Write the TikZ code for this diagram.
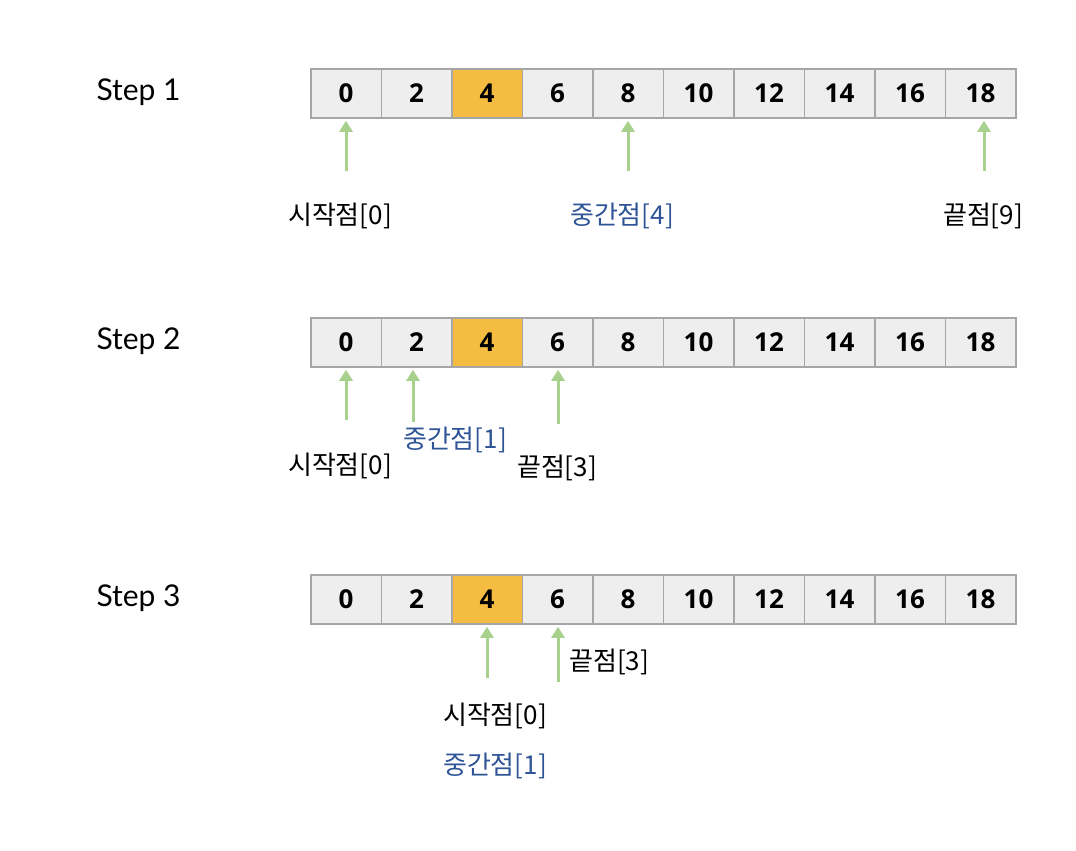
\documentclass[tikz,border=0pt]{standalone}
\usepackage{fontspec}
\usepackage{tikz}
\usetikzlibrary{arrows.meta}
\newfontfamily\kofont{Noto Sans CJK KR}
\newfontfamily\numfont{Open Sans}
\newfontfamily\stepfont{Lato}

\definecolor{cellgray}{HTML}{EEEEEE}
\definecolor{linegray}{HTML}{A6A6A6}
\definecolor{pickgold}{HTML}{F5BC42}
\definecolor{arrowgreen}{HTML}{A9D18E}
\definecolor{midblue}{HTML}{2F5597}

\tikzset{
	cell/.style={draw=linegray, line width=1.5pt, fill=cellgray, minimum width=70.5pt,
		minimum height=49pt, inner sep=0pt, font=\numfont\bfseries\fontsize{26}{26}\selectfont},
	pick/.style={cell, fill=pickgold},
	pointer/.style={draw=arrowgreen, line width=3pt, shorten >=2pt,
		-{Triangle[width=13pt,length=11pt]}},
	steplabel/.style={anchor=west, font=\stepfont\fontsize{30}{30}\selectfont},
	idx/.style={font=\kofont\fontsize{26}{26}\selectfont, inner sep=0pt},
	mididx/.style={idx, text=midblue}
}

\begin{document}
\begin{tikzpicture}[x=1pt, y=-1pt]
			\useasboundingbox (0,0) rectangle (1076,851);
			
			% step labels
			\node[steplabel] (step1) at (93, 92) {Step 1};
			\node[steplabel] (step2) at (93, 341) {Step 2};
			\node[steplabel] (step3) at (93, 598) {Step 3};
			
			% arrays
			\foreach \r/\y in {1/93.5, 2/342.5, 3/599.5} {
				\foreach \i/\v in {0/0, 1/2, 3/6, 4/8, 5/10, 6/12, 7/14, 8/16, 9/18}
					\node[cell] (r\r c\i) at ({346+70.5*\i}, \y) {\v};
				\node[pick] (r\r c2) at (487, \y) {4};
			}
			
			% step 1
			\coordinate (p1s) at (346, 171);
			\coordinate (p1m) at (628, 171);
			\coordinate (p1e) at (984, 171);
			\draw[pointer] (p1s) -- (r1c0.south);
			\draw[pointer] (p1m) -- (r1c4.south -| p1m);
			\draw[pointer] (p1e) -- (r1c9.south -| p1e);
			\node[idx] (l1s) at (340, 216) {시작점[0]};
			\node[mididx] (l1m) at (622, 216) {중간점[4]};
			\node[idx] (l1e) at (983, 216) {끝점[9]};
			
			% step 2
			\coordinate (p2s) at (346, 420);
			\coordinate (p2m) at (413, 422);
			\coordinate (p2e) at (558, 424);
			\draw[pointer] (p2s) -- (r2c0.south);
			\draw[pointer] (p2m) -- (r2c1.south -| p2m);
			\draw[pointer] (p2e) -- (r2c3.south -| p2e);
			\node[idx] (l2s) at (340, 466) {시작점[0]};
			\node[mididx] (l2m) at (455, 440) {중간점[1]};
			\node[idx] (l2e) at (557, 468) {끝점[3]};
			
			% step 3
			\coordinate (p3s) at (487, 678);
			\coordinate (p3e) at (558, 682);
			\draw[pointer] (p3s) -- (r3c2.south);
			\draw[pointer] (p3e) -- (r3c3.south -| p3e);
			\node[idx, anchor=west] (l3e) at (569, 662) {끝점[3]};
			\node[idx] (l3s) at (495, 716) {시작점[0]};
			\node[mididx] (l3m) at (495, 766) {중간점[1]};
			\end{tikzpicture}
\end{document}
